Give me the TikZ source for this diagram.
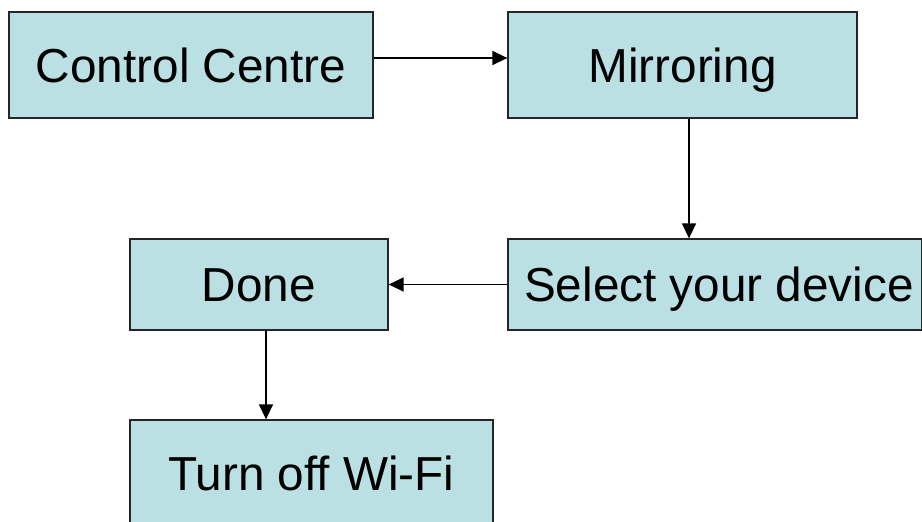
\documentclass[tikz,border=0pt]{standalone}
\usepackage{fontspec}
\setmainfont{Liberation Sans}
\usetikzlibrary{arrows.meta}
\definecolor{boxfill}{HTML}{BAE0E3}
\begin{document}
\begin{tikzpicture}[x=1pt,y=-1pt,
  stepbox/.style={draw=black!85,line width=1.3pt,fill=boxfill,rectangle,inner sep=0pt,
    font=\fontsize{47.7}{57}\selectfont,text height=34.2pt,text depth=0pt},
  conn/.style={line width=1.5pt,-{Triangle[length=15pt,width=14pt]}}]
\useasboundingbox (0,0) rectangle (922,522);
\clip (0,0) rectangle (922,522);
\node[stepbox,minimum width=364pt,minimum height=106pt] (cc) at (191,65) {Control Centre};
\node[stepbox,minimum width=349pt,minimum height=106pt] (mir) at (682.5,65) {Mirroring};
\node[stepbox,minimum width=414pt,minimum height=91pt] (sel) at (715,284.5) {\hspace*{8pt}Select your device};
\node[stepbox,minimum width=258pt,minimum height=91pt] (done) at (259,284.5) {Done};
\node[stepbox,minimum width=363pt,minimum height=106pt] (wifi) at (311.5,473) {Turn off Wi-Fi};
\draw[conn] ([yshift=7pt]cc.east) -- ([yshift=7pt]mir.west);
\draw[conn] ([xshift=6.5pt]mir.south) -- ([xshift=-26pt]sel.north);
\draw[conn] (sel.west) -- (done.east);
\draw[conn] ([xshift=7pt]done.south) -- ([xshift=-45.5pt]wifi.north);
\end{tikzpicture}
\end{document}
